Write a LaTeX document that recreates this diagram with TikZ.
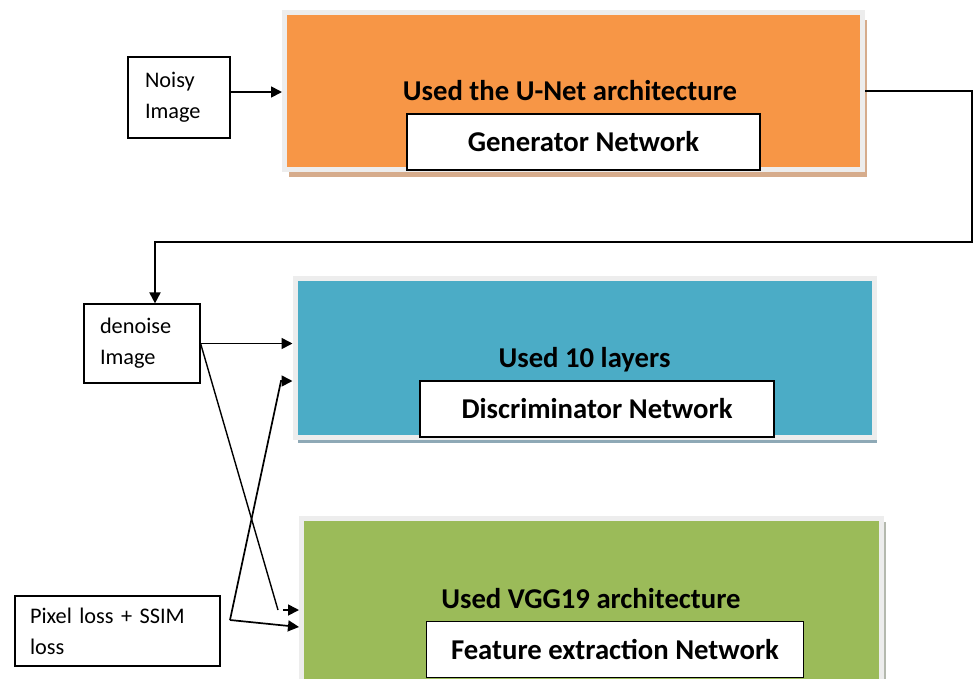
\documentclass[tikz,border=0pt]{standalone}
\usepackage{fontspec}
\setmainfont{Carlito}
\usetikzlibrary{arrows.meta,shadows}
\definecolor{genorange}{HTML}{F79646}
\definecolor{genshadow}{HTML}{D6AC8C}
\definecolor{disblue}{HTML}{4BACC6}
\definecolor{disshadow}{HTML}{8EA9B6}
\definecolor{fegreen}{HTML}{9BBB59}
\definecolor{feshadow}{HTML}{B4B9AE}
\definecolor{framegray}{HTML}{EDEDED}
\newcommand{\headfont}{\fontsize{28.7}{34}\selectfont\bfseries}
\newcommand{\sidefont}{\fontsize{22.3}{31}\selectfont}
\begin{document}
\begin{tikzpicture}[x=1pt,y=-1pt,
	block/.style={draw=framegray, line width=5pt, inner sep=0pt},
	namebox/.style={draw, fill=white, line width=1.2pt, font=\headfont, inner sep=0pt},
	title/.style={font=\headfont, inner sep=0pt},
	sidebox/.style={draw, line width=1.2pt, font=\sidefont, align=left, inner ysep=0pt},
	flow/.style={line width=1.7pt, -{Triangle[length=11pt,width=11pt]}},
	wire/.style={line width=1.4pt}]
	\useasboundingbox (0,0) rectangle (973,678);
	\clip (0,0) rectangle (973,678);
	% the three networks
	\node[block, fill=genorange, minimum width=578, minimum height=157,
		drop shadow={shadow xshift=4pt, shadow yshift=-7pt, fill=genshadow, opacity=1}] (gen) at (573.5,91) {};
	\node[block, fill=disblue, minimum width=579, minimum height=159,
		drop shadow={shadow xshift=3pt, shadow yshift=-6pt, fill=disshadow, opacity=1}] (dis) at (584.5,357.5) {};
	\node[block, fill=fegreen, minimum width=580, minimum height=190,
		drop shadow={shadow xshift=4pt, shadow yshift=-4pt, fill=feshadow, opacity=1}] (fe) at (591.5,613) {};
	\node[title] (gent) at (570,91) {Used the U-Net architecture};
	\node[namebox, minimum width=353, minimum height=56] (genb) at (583.5,142) {Generator Network};
	\node[title] (dist) at (584.5,360) {Used 10 layers};
	\node[namebox, minimum width=354, minimum height=56] (disb) at (597,409) {Discriminator Network};
	\node[title] (fet) at (591,599) {Used VGG19 architecture};
	\node[namebox, minimum width=377, minimum height=56] (feb) at (615,649.5) {Feature extraction Network};
	% inputs
	\node[sidebox, text width=68pt, inner xsep=17pt, minimum height=81] (noisy) at (179,97.5) {Noisy\\Image};
	\node[sidebox, text width=84pt, inner xsep=16pt, minimum height=79] (den) at (142,343.5) {denoise\\Image};
	\node[sidebox, text width=175pt, inner xsep=15pt, minimum height=70] (pix) at (117.5,631) {Pixel loss + SSIM\\loss};
	% connectors
	\coordinate (nz) at ([yshift=5.5pt]noisy.east);
	\draw[flow] (nz) -- (nz -| gen.west);
	\coordinate (turn) at (972,242);
	\draw[flow, line width=2pt] (gen.east) -| (turn) -| ([xshift=13pt]den.north);
	\draw[flow] (den.east) -- (den.east -| dis.west);
	\coordinate (dx) at (278,610);
	\coordinate (dy) at (283,610);
	\draw[wire] (den.east) -- (dx);
	\draw[flow] (dy) -- (dy -| fe.west);
	\coordinate (pj) at (230,620);
	\coordinate (pk) at (281,381);
	\draw[flow] (pj) -- ([yshift=-14pt]fe.west);
	\draw[flow] (pj) -- (pk) -- (pk -| dis.west);
\end{tikzpicture}
\end{document}
